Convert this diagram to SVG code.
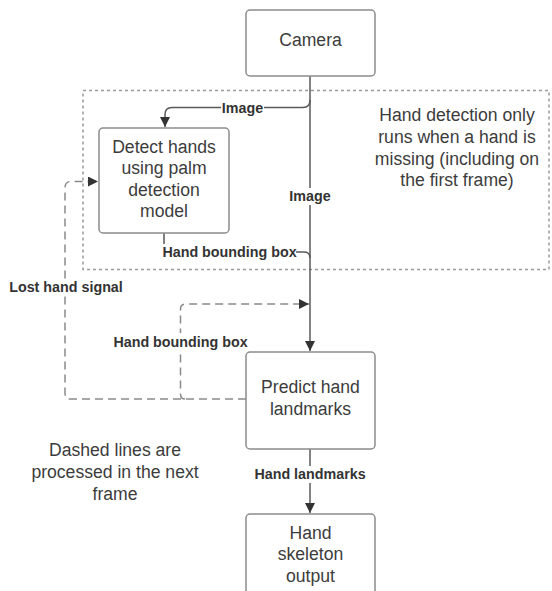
<svg xmlns="http://www.w3.org/2000/svg" width="552" height="591" viewBox="0 0 552 591">
  <style>
    .node { fill: #ffffff; stroke: #8c8c8c; stroke-width: 1.5; }
    .ntext { font-family: "Liberation Sans", Arial, sans-serif; font-size: 17.6px; fill: #3c3c3c; text-anchor: middle; }
    .lbl { font-family: "Liberation Sans", Arial, sans-serif; font-size: 14.3px; font-weight: bold; fill: #333333; text-anchor: middle; }
    .solid { fill: none; stroke: #5a5a5a; stroke-width: 1.5; }
    .dashed { fill: none; stroke: #8a8a8a; stroke-width: 1.5; stroke-dasharray: 8 5; }
    .region { fill: none; stroke: #9a9a9a; stroke-width: 1.5; stroke-dasharray: 3 3; }
    .bg { fill: #ffffff; }
  </style>
  <defs>
    <marker id="arrow" viewBox="0 0 10 10" refX="10" refY="5" markerWidth="10" markerHeight="10" markerUnits="userSpaceOnUse" orient="auto">
      <path d="M0,0 L10,5 L0,10 Z" fill="#333333"/>
    </marker>
  </defs>
  <rect width="552" height="591" fill="#ffffff"/>

  <!-- region where hand detection runs -->
  <g id="detection-region">
    <rect class="region" x="83" y="90.5" width="466" height="179"/>
    <text class="ntext" x="457" y="121.3">Hand detection only</text>
    <text class="ntext" x="457" y="143">runs when a hand is</text>
    <text class="ntext" x="457" y="164.6">missing (including on</text>
    <text class="ntext" x="457" y="186.3">the first frame)</text>
  </g>

  <!-- connectors -->
  <g id="connectors">
    <!-- camera to landmark model -->
    <path class="solid" d="M310,76 V351" marker-end="url(#arrow)"/>
    <!-- camera to palm detector -->
    <path class="solid" d="M310,100 Q310,107.5 303,107.5 H172 Q165,107.5 165,114.5 V127" marker-end="url(#arrow)"/>
    <!-- palm detector to landmark model -->
    <path class="solid" d="M164,233 V252 H304 Q310,252 310,258"/>
    <!-- landmarks to output -->
    <path class="solid" d="M310,449 V513" marker-end="url(#arrow)"/>
    <!-- next frame feedback -->
    <path class="dashed" d="M246,399 H71 Q65,399 65,393 V188 Q65,181.5 71,181.5 H98" marker-end="url(#arrow)"/>
    <path class="dashed" d="M185,399 Q180.5,399 180.5,394 V309 Q180.5,304 186,304 H309" marker-end="url(#arrow)"/>

    <!-- connector labels -->
    <rect class="bg" x="221" y="100" width="43" height="16"/>
    <text class="lbl" x="242.5" y="112.5">Image</text>
    <rect class="bg" x="289" y="188" width="42" height="17"/>
    <text class="lbl" x="310" y="201.3">Image</text>
    <rect class="bg" x="163" y="244" width="133" height="17"/>
    <text class="lbl" x="229.5" y="257.3">Hand bounding box</text>
    <rect class="bg" x="8" y="279" width="116" height="17"/>
    <text class="lbl" x="66" y="292.2">Lost hand signal</text>
    <rect class="bg" x="113" y="333" width="135" height="17"/>
    <text class="lbl" x="180.5" y="346.5">Hand bounding box</text>
    <rect class="bg" x="254" y="466" width="112" height="17"/>
    <text class="lbl" x="310" y="479.4">Hand landmarks</text>
  </g>

  <g id="camera">
    <rect class="node" x="246" y="10" width="129" height="66" rx="4"/>
    <text class="ntext" x="310.5" y="46.3">Camera</text>
  </g>

  <g id="palm-detection">
    <rect class="node" x="99" y="128" width="130" height="105" rx="4"/>
    <text class="ntext" x="164" y="153">Detect hands</text>
    <text class="ntext" x="164" y="174">using palm</text>
    <text class="ntext" x="164" y="195.6">detection</text>
    <text class="ntext" x="164" y="217">model</text>
  </g>

  <g id="landmark-model">
    <rect class="node" x="246" y="352" width="129" height="97" rx="4"/>
    <text class="ntext" x="310.5" y="393">Predict hand</text>
    <text class="ntext" x="310.5" y="414.6">landmarks</text>
  </g>

  <g id="skeleton-output">
    <rect class="node" x="246" y="514" width="129" height="90" rx="4"/>
    <text class="ntext" x="310.5" y="538.6">Hand</text>
    <text class="ntext" x="310.5" y="560.3">skeleton</text>
    <text class="ntext" x="310.5" y="582">output</text>
  </g>

  <g id="note">
    <text class="ntext" x="115" y="456.3">Dashed lines are</text>
    <text class="ntext" x="115" y="478">processed in the next</text>
    <text class="ntext" x="115" y="499.6">frame</text>
  </g>
</svg>
